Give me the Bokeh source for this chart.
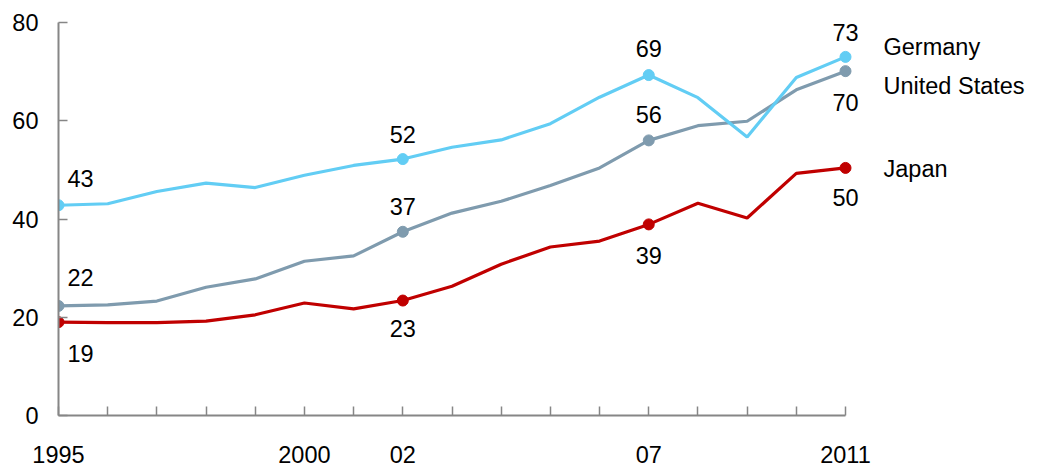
from bokeh.plotting import figure
from bokeh.models import Range1d, FixedTicker, ColumnDataSource
from bokeh.embed import file_html
from bokeh.resources import INLINE
from bokeh.core.properties import value

# ---- data ----
years = list(range(1995, 2012))
germany = [42.8, 43.1, 45.6, 47.3, 46.4, 48.9, 50.9, 52.2, 54.6, 56.1, 59.4, 64.8, 69.3, 64.7, 56.7, 68.8, 73.0]
united_states = [22.3, 22.5, 23.3, 26.1, 27.8, 31.4, 32.5, 37.4, 41.2, 43.6, 46.8, 50.4, 56.0, 59.0, 59.9, 66.3, 70.1]
japan = [19.0, 18.9, 18.9, 19.2, 20.5, 22.9, 21.7, 23.4, 26.3, 30.8, 34.3, 35.5, 38.9, 43.2, 40.2, 49.3, 50.4]
series_names = ["Germany", "United States", "Japan"]
marker_years = [1995, 2002, 2007, 2011]
x_tick_years = years
x_tick_labels = {1995: "1995", 2000: "2000", 2002: "02", 2007: "07", 2011: "2011"}
y_ticks = [0, 20, 40, 60, 80]

# ---- styles ----
FONT = value("Liberation Sans")
FSIZE = "23.5px"
TXT = "#000000"
AXIS = "#868686"
colors = {"Germany": "#62CDF4", "United States": "#7F9BAE", "Japan": "#C00000"}
# label placement (screen px) for marker labels: (x_offset, y_offset) per marker year
label_offsets = {
    "Germany": [(22, -27), (0, -25), (0, -27), (0, -24)],
    "United States": [(22, -28), (0, -25), (0, -26), (0, 31)],
    "Japan": [(22, 31), (0, 28), (0, 31), (0, 30)],
}
name_offsets = {"Germany": -10, "United States": 15, "Japan": 1}

p = figure(
    frame_width=971, frame_height=393,
    x_range=Range1d(1995, 1995 + 971 / 49.1875),
    y_range=Range1d(0, 80),
    output_backend="svg", toolbar_location=None,
    min_border_left=58, min_border_top=22, min_border_right=0, min_border_bottom=0,
)
p.outline_line_color = None
p.xgrid.grid_line_color = None
p.ygrid.grid_line_color = None
p.background_fill_color = "white"
p.border_fill_color = "white"

for ax in (p.xaxis[0], p.yaxis[0]):
    ax.axis_line_color = AXIS
    ax.axis_line_width = 2
    ax.major_tick_line_color = AXIS
    ax.major_tick_line_width = 1.5
    ax.major_tick_in = 9
    ax.major_tick_out = 0
    ax.minor_tick_line_color = None
    ax.major_label_text_font = "Liberation Sans"
    ax.major_label_text_font_size = FSIZE
    ax.major_label_text_color = TXT

p.xaxis.ticker = FixedTicker(ticks=x_tick_years)
p.xaxis.major_label_overrides = {y: x_tick_labels.get(y, "") for y in x_tick_years}
p.xaxis.bounds = (1995, 2011)
p.xaxis.major_label_standoff = 30
p.yaxis.ticker = FixedTicker(ticks=y_ticks)
p.yaxis.major_label_standoff = 20

data = {"Germany": germany, "United States": united_states, "Japan": japan}

for name in ["United States", "Germany", "Japan"]:
    vals = data[name]
    c = colors[name]
    p.line(years, vals, line_width=3.2, line_color=c)
    mx = marker_years
    my = [vals[years.index(y)] for y in mx]
    p.scatter(mx, my, size=11, fill_color=c, line_color=c)
    offs = label_offsets[name]
    src = ColumnDataSource(dict(
        x=mx, y=my, t=[str(int(round(v))) for v in my],
        xo=[o[0] for o in offs], yo=[o[1] for o in offs],
    ))
    p.text(x="x", y="y", text="t", x_offset="xo", y_offset="yo", source=src,
           text_font=FONT, text_font_size=FSIZE, text_color=TXT,
           text_align="center", text_baseline="middle")
    p.text(x=[years[-1]], y=[vals[-1]], text=[name], x_offset=38, y_offset=name_offsets[name],
           text_font=FONT, text_font_size=FSIZE, text_color=TXT,
           text_align="left", text_baseline="middle")

open("out.html", "w").write(file_html(p, INLINE))
